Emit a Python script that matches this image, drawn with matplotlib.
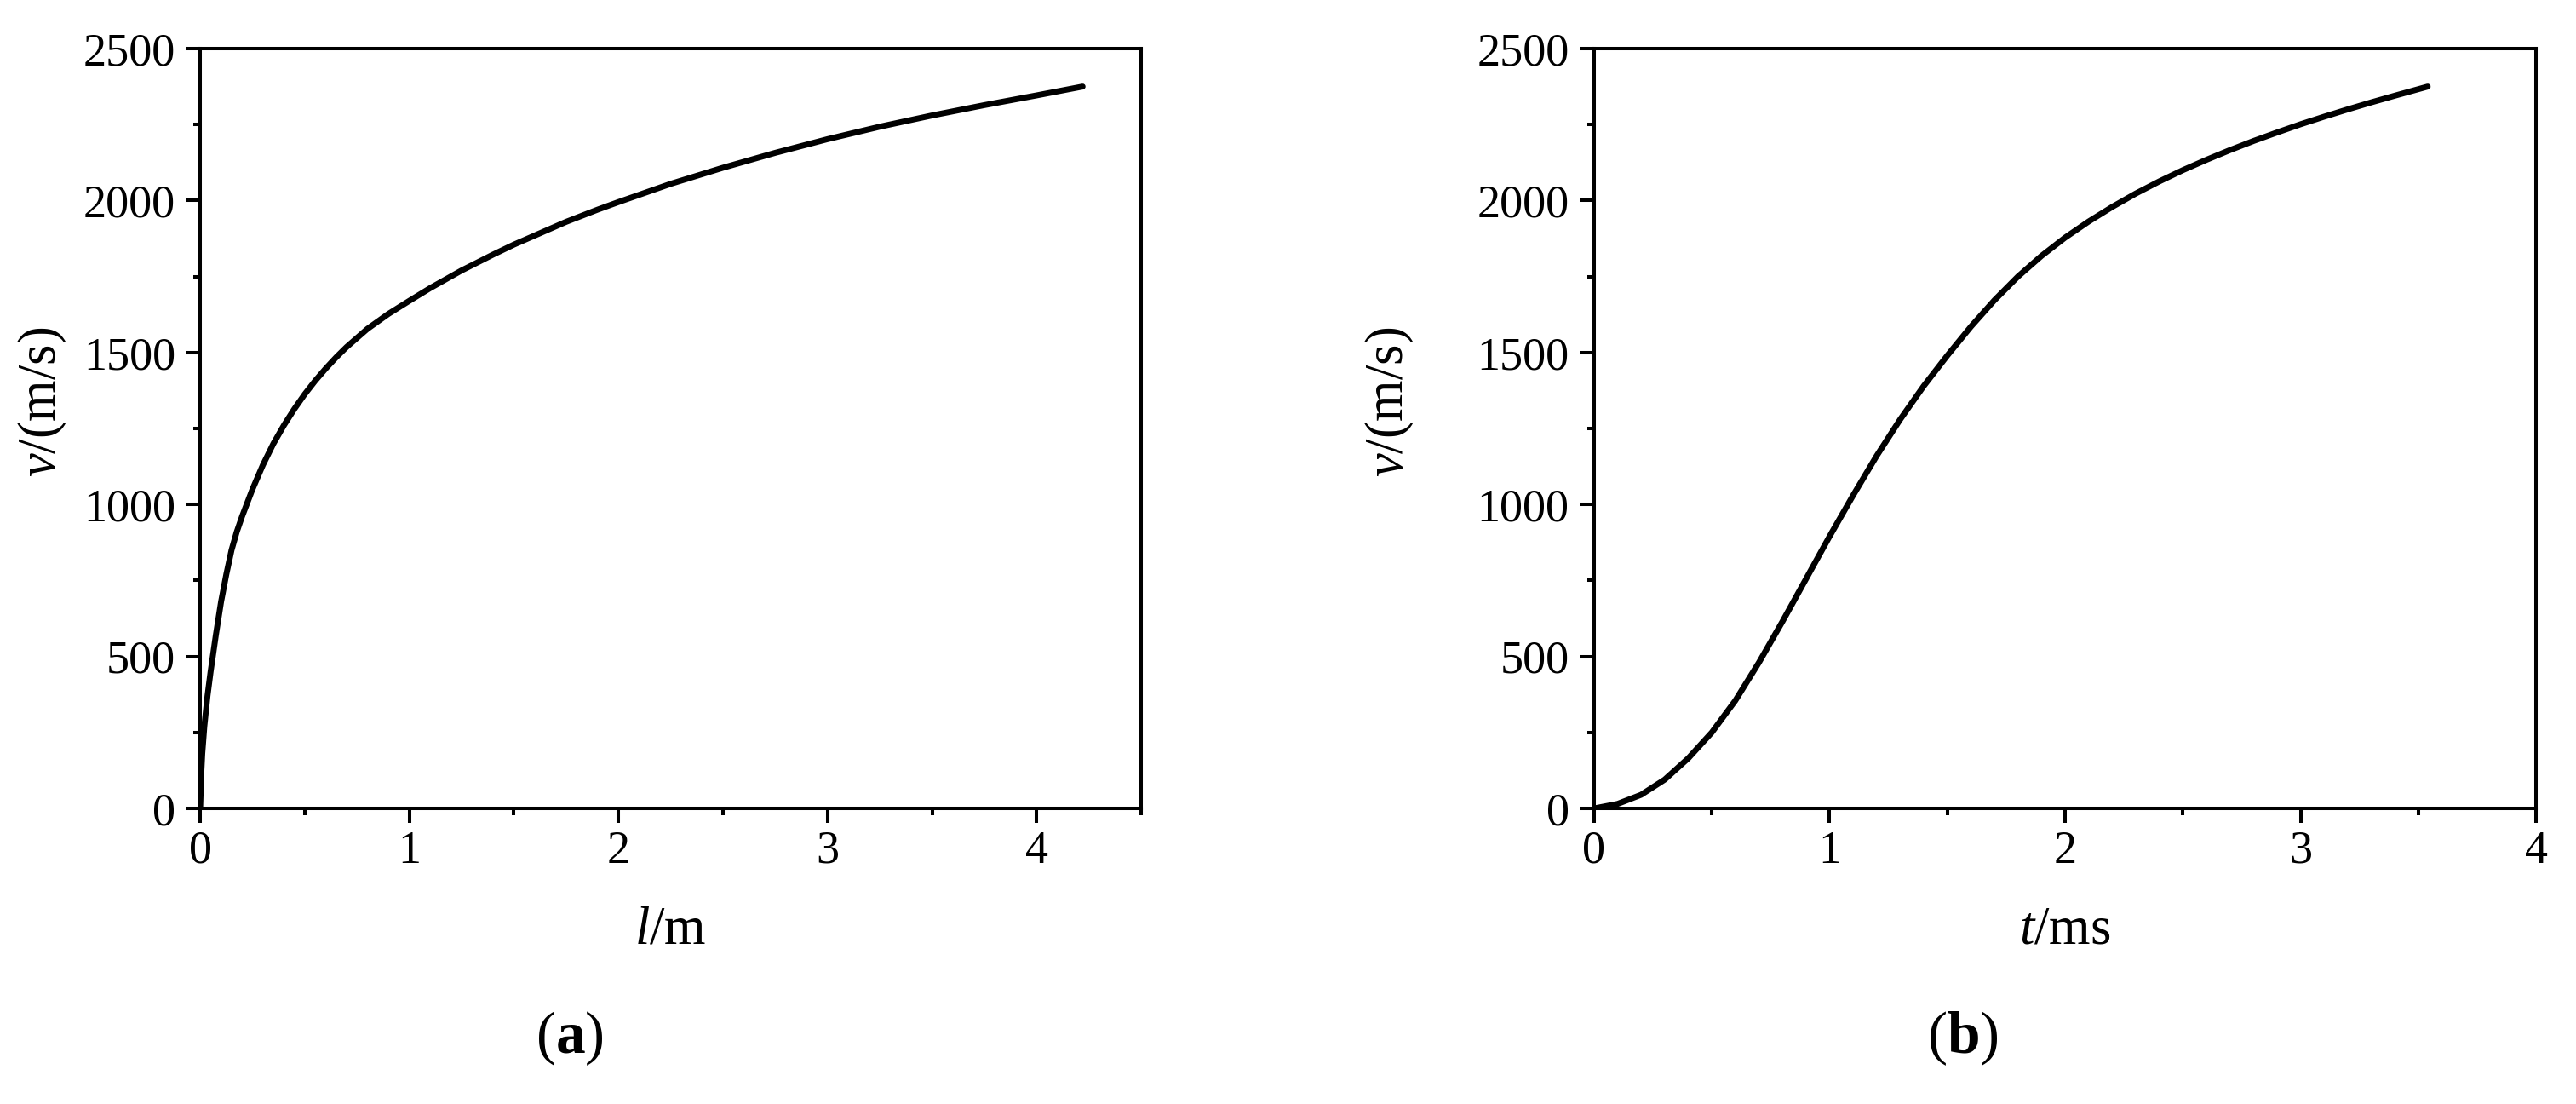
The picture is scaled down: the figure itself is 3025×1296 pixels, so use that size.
import numpy as np
import matplotlib
matplotlib.use('Agg')
import matplotlib.pyplot as plt
from matplotlib.ticker import MultipleLocator

plt.rcParams['font.family'] = ['Liberation Serif', 'DejaVu Serif']
plt.rcParams['mathtext.fontset'] = 'custom'
plt.rcParams['mathtext.it'] = 'Liberation Serif:italic'
plt.rcParams['mathtext.rm'] = 'Liberation Serif'
plt.rcParams['mathtext.bf'] = 'Liberation Serif:bold'

# (a) velocity vs. travel length
l_m = [0, 0.005, 0.01, 0.02, 0.035, 0.05, 0.075, 0.1, 0.125, 0.15, 0.175, 0.2, 0.25, 0.3,
       0.35, 0.4, 0.45, 0.5, 0.55, 0.6, 0.65, 0.7, 0.8, 0.9, 1.0, 1.1, 1.25, 1.4, 1.5,
       1.65, 1.75, 1.9, 2.0, 2.25, 2.5, 2.75, 3.0, 3.25, 3.5, 3.75, 4.0, 4.22]
v_l = [0, 110, 180, 270, 370, 450, 570, 680, 770, 850, 910, 960, 1050, 1130,
       1200, 1260, 1314, 1363, 1407, 1447, 1484, 1518, 1578, 1627, 1670, 1712, 1770, 1822, 1855,
       1900, 1930, 1970, 1995, 2055, 2108, 2157, 2202, 2243, 2280, 2314, 2346, 2375]

# (b) velocity vs. time
t_ms = [0, 0.1, 0.2, 0.3, 0.4, 0.5, 0.6, 0.7, 0.8, 0.9, 1.0, 1.1, 1.2, 1.3, 1.4,
        1.5, 1.6, 1.7, 1.8, 1.9, 2.0, 2.1, 2.2, 2.3, 2.4, 2.5, 2.6, 2.7, 2.8, 2.9,
        3.0, 3.1, 3.2, 3.3, 3.4, 3.54]
v_t = [0, 15, 45, 95, 165, 250, 355, 480, 615, 755, 895, 1030, 1160, 1280, 1390,
       1490, 1585, 1672, 1750, 1818, 1878, 1931, 1979, 2023, 2063, 2100, 2134, 2166, 2196, 2224,
       2251, 2276, 2300, 2323, 2345, 2375]

fig = plt.figure(figsize=(30.25, 12.96), dpi=100)
ax1 = fig.add_axes([0.0777, 0.2677, 0.3653, 0.6883])
ax2 = fig.add_axes([0.6188, 0.2677, 0.3657, 0.6883])

fs = 39
fl = 45
for ax, x, y, xmax, xlab in [(ax1, l_m, v_l, 4.5, r'$l$/m'), (ax2, t_ms, v_t, 4, r'$t$/ms')]:
    ax.plot(x, y, color='black', lw=5, solid_capstyle='round', solid_joinstyle='round')
    ax.set_xlim(0, xmax)
    ax.set_ylim(0, 2500)
    ax.xaxis.set_major_locator(MultipleLocator(1))
    ax.xaxis.set_minor_locator(MultipleLocator(0.5))
    ax.yaxis.set_major_locator(MultipleLocator(500))
    ax.yaxis.set_minor_locator(MultipleLocator(250))
    ax.tick_params(which='both', direction='out', width=2.9, top=False, right=False,
                   labelsize=fs)
    ax.tick_params(which='major', length=12)
    ax.tick_params(which='minor', length=6)
    ax.tick_params(axis='x', which='major', pad=6)
    ax.tick_params(axis='y', which='major', pad=9)
    for s in ax.spines.values():
        s.set_linewidth(2.9)
    ax.set_xlabel(xlab, fontsize=fl)
    ax.set_ylabel(r'$v$/(m/s)', fontsize=fl)
    ax.xaxis.set_label_coords(0.5, -0.128)

ax1.yaxis.set_label_coords(-0.139, 0.535)
ax2.yaxis.set_label_coords(-0.189, 0.535)

fig.text(669 / 3025, 1 - 1219 / 1296, r'($\mathbf{a}$)', fontsize=50, ha='center', va='center')
fig.text(2305 / 3025, 1 - 1219 / 1296, r'($\mathbf{b}$)', fontsize=50, ha='center', va='center')

fig.savefig('out.png', dpi=100)
